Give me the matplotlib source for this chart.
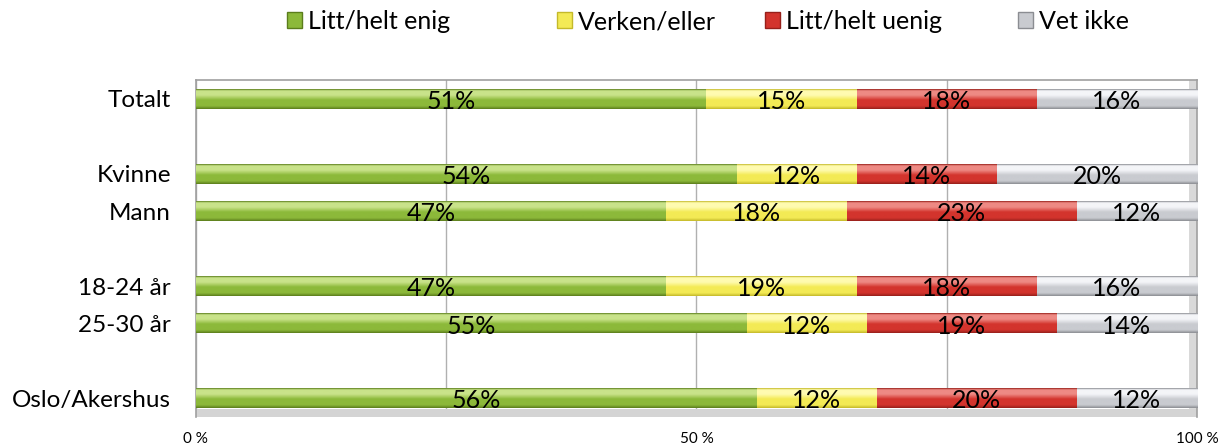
import numpy as np
import matplotlib
matplotlib.use("Agg")
import matplotlib.pyplot as plt
from matplotlib.patches import Patch
from matplotlib.colors import LinearSegmentedColormap

plt.rcParams['font.family'] = ['Lato', 'DejaVu Sans']

categories = ["Totalt", "", "Kvinne", "Mann", "", "18-24 år", "25-30 år", "", "Oslo/Akershus"]
series_names = ["Litt/helt enig", "Verken/eller", "Litt/helt uenig", "Vet ikke"]
nan = np.nan
enig = [51, nan, 54, 47, nan, 47, 55, nan, 56]
verken = [15, nan, 12, 18, nan, 19, 12, nan, 12]
uenig = [18, nan, 14, 23, nan, 18, 19, nan, 20]
vet_ikke = [16, nan, 20, 12, nan, 16, 14, nan, 12]
x_ticks = [0, 25, 50, 75, 100]
x_tick_labels = ["0 %", "", "50 %", "", "100 %"]

series = [enig, verken, uenig, vet_ikke]
# (light, main, dark)
palettes = [
    ("#c9e38a", "#8cb93a", "#5b7d1c"),
    ("#fffbb0", "#f3ea55", "#c4b92a"),
    ("#ee8a84", "#d3342d", "#97201b"),
    ("#f4f5f8", "#c9cbd0", "#8b8d92"),
]

fig = plt.figure(figsize=(12.24, 4.48), dpi=100)
ax = fig.add_axes([0.160, 0.069, 0.818, 0.752])

n = len(categories)
y = np.arange(n)
h = 0.52
left = np.zeros(n)
for vals, (lc, mc, dc), name in zip(series, palettes, series_names):
    v = np.array(vals, dtype=float)
    bars = ax.barh(y, np.nan_to_num(v), left=left, height=h, color=mc,
                   edgecolor='none', zorder=3, label=name)
    cmap = LinearSegmentedColormap.from_list(
        name, [(0.0, dc), (0.08, lc), (0.3, lc), (0.55, mc), (0.85, mc), (1.0, dc)])
    grad = np.linspace(0, 1, 64).reshape(-1, 1)
    for b, val in zip(bars, v):
        if np.isnan(val):
            continue
        x0, yb = b.get_x(), b.get_y()
        w, hh = b.get_width(), b.get_height()
        ax.imshow(grad, cmap=cmap, extent=(x0, x0 + w, yb, yb + hh),
                  origin='lower', aspect='auto', zorder=4, interpolation='bilinear')
        ax.text(x0 + w / 2, yb + hh / 2 + 0.07, f"{int(val)}%", ha='center',
                va='center', fontsize=18, color='black', zorder=6)
    left = left + np.nan_to_num(v)

# 3D-like walls / floor
ax.axvspan(99.2, 100, color='#d9d9d9', zorder=1, lw=0)
ax.axhspan(8.28, 8.5, color='#d4d4d4', zorder=1, lw=0)

ax.set_xlim(0, 100)
ax.set_ylim(n - 0.5, -0.5)
ax.set_yticks(y)
ax.set_yticklabels(categories, fontsize=17.5)
ax.set_xticks(x_ticks)
ax.set_xticklabels(x_tick_labels, fontsize=11)
ax.tick_params(axis='y', length=0, pad=18)
ax.tick_params(axis='x', length=0, pad=11)
ax.grid(axis='x', color='#b0b0b0', lw=1, zorder=0)
ax.set_axisbelow(True)
for s in ['left', 'top', 'right', 'bottom']:
    ax.spines[s].set_color('#a0a0a0')
    ax.spines[s].set_linewidth(1.2)
ax.spines['bottom'].set_visible(False)

legend_x = [287 / 1224, 557 / 1224, 765 / 1224, 1018 / 1224]
for (lc, mc, dc), nm, lx in zip(palettes, series_names, legend_x):
    hnd = Patch(facecolor=mc, edgecolor=dc, label=nm)
    fig.legend(handles=[hnd], loc='center left', bbox_to_anchor=(lx, 0.952),
               frameon=False, fontsize=18, handlelength=0.6, handleheight=0.6,
               handletextpad=0.25, borderpad=0, borderaxespad=0)

fig.savefig("out.png", dpi=100)
